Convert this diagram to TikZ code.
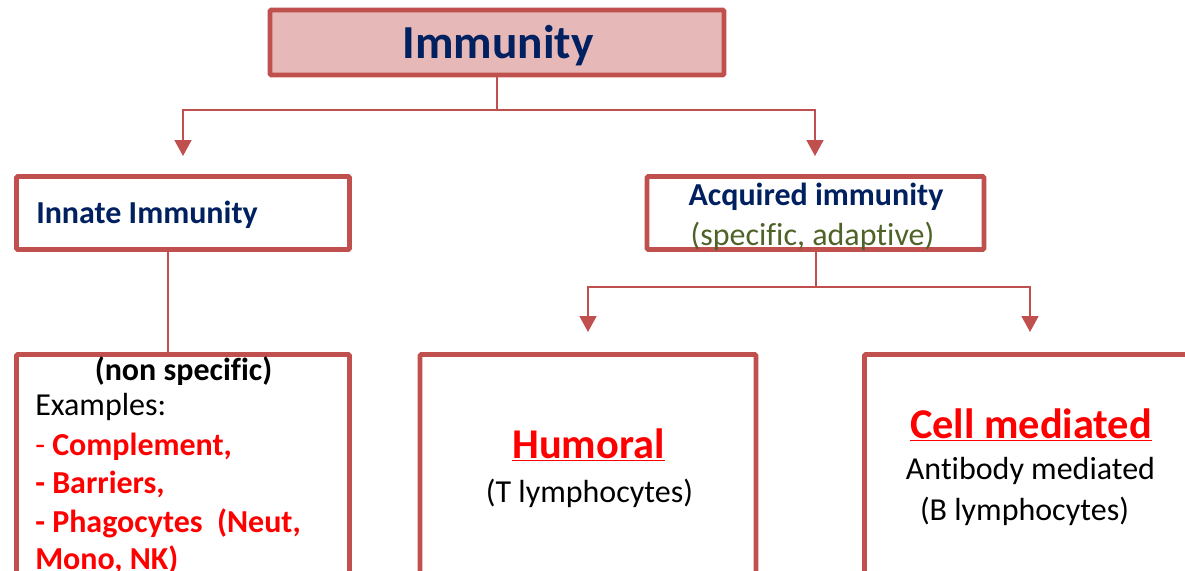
\documentclass[tikz,border=0pt]{standalone}
\usepackage{fontspec}
\setmainfont[Ligatures={NoCommon}]{Carlito}
\usetikzlibrary{arrows.meta}
\definecolor{bord}{HTML}{C0504D}
\definecolor{pinkfill}{HTML}{E6B8B7}
\definecolor{navy}{HTML}{002060}
\definecolor{olive}{HTML}{4F6228}
\definecolor{redt}{HTML}{FF0000}
\tikzset{
  box/.style={draw=bord, line width=3.6pt, rounded corners=1pt, inner sep=0pt},
  conn/.style={draw=bord, line width=1.3pt},
  arr/.style={conn, -{Triangle[width=12.75pt,length=12pt]}},
  txt/.style={inner sep=0pt, anchor=base, font=\fontsize{24}{28}\selectfont},
  txtl/.style={txt, anchor=base west},
  big/.style={txt, font=\fontsize{31.8}{36}\selectfont\bfseries, text=redt},
}
\begin{document}
\begin{tikzpicture}[x=0.75pt,y=-0.75pt]
\useasboundingbox (0,0) rectangle (1185,571);
\clip (0,0) rectangle (1185,571);
% boxes
\node[box, fill=pinkfill, minimum width=454*0.75pt, minimum height=65*0.75pt] (imm) at (497,42.5) {};
\node[box, minimum width=333*0.75pt, minimum height=73*0.75pt] (innate) at (183,213) {};
\node[box, minimum width=337*0.75pt, minimum height=73*0.75pt] (acq) at (815.5,213) {};
\node[box, minimum width=333*0.75pt, minimum height=260*0.75pt] (nonspec) at (183,484.5) {};
\node[box, minimum width=336*0.75pt, minimum height=260*0.75pt] (hum) at (588,484.5) {};
\node[box, minimum width=336*0.75pt, minimum height=260*0.75pt] (cell) at (1032.5,484.5) {};
% texts
\node[txt, font=\fontsize{35.5}{40}\selectfont\bfseries, text=navy] (timm) at (498,58) {Immunity};
\node[txtl, font=\fontsize{24}{28}\selectfont\bfseries, text=navy] (tinn) at (36,223) {Innate Immunity};
\node[txt, font=\fontsize{24}{28}\selectfont\bfseries, text=navy] (tacq1) at (816,205) {Acquired immunity};
\node[txt, text=olive] (tacq2) at (812.5,245) {(specific, adaptive)};
\node[txt, font=\fontsize{24}{28}\selectfont\bfseries] (tns) at (183.5,380) {(non specific)};
\node[txtl] (tex) at (35,415) {Examples:};
\node[txtl, text=redt] (tc) at (35,455) {-\ \textbf{Complement,}};
\node[txtl, font=\fontsize{24}{28}\selectfont\bfseries, text=redt] (tb) at (35,493) {- Barriers,};
\node[txtl, font=\fontsize{24}{28}\selectfont\bfseries, text=redt] (tp) at (35,532) {- Phagocytes\ \ (Neut,};
\node[txtl, font=\fontsize{24}{28}\selectfont\bfseries, text=redt] (tm) at (35,569) {Mono, NK)};
\node[big] (thum) at (588.5,458) {\underline{Humoral}};
\node[txt] (tT) at (589.5,502) {(T lymphocytes)};
\node[big] (tcell) at (1031,438) {\underline{Cell mediated}};
\node[txt] (tab) at (1030.5,479) {Antibody mediated};
\node[txt] (tB) at (1024.5,520) {(B lymphocytes)};
% connectors
\coordinate (j1) at (497,110);
\coordinate (aL) at (183,156);
\coordinate (aR) at (815,156);
\draw[conn] (imm.south) -- (j1);
\draw[arr] (j1) -| (aL);
\draw[arr] (j1) -| (aR);
\coordinate (j2) at (816,287);
\coordinate (bL) at (588,332);
\coordinate (bR) at (1030,332);
\draw[conn] (acq.south -| j2) -- (j2);
\draw[arr] (j2) -| (bL);
\draw[arr] (j2) -| (bR);
\coordinate (c1) at (168,250);
\draw[conn] (c1) -- (c1 |- nonspec.north);
\end{tikzpicture}
\end{document}
